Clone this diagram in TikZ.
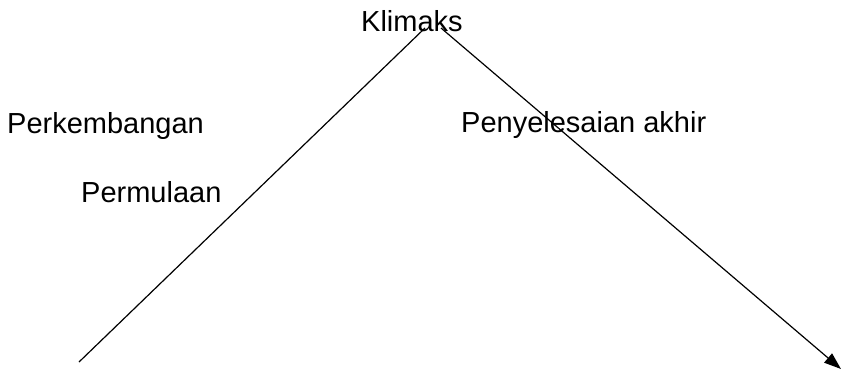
\documentclass[tikz,border=0pt]{standalone}
\usepackage{fontspec}
\setmainfont{Liberation Sans}
\usetikzlibrary{arrows.meta}
\begin{document}
\begin{tikzpicture}[x=1pt,y=-1pt,
  lbl/.style={anchor=base west,inner sep=0pt,font=\fontsize{29}{35}\selectfont},
  ln/.style={line width=1.2pt,black}]
\useasboundingbox (0,0) rectangle (841,370);
\node[lbl] (klimaks) at (361,31) {Klimaks};
\node[lbl] (perkembangan) at (7,133) {Perkembangan};
\node[lbl] (permulaan) at (81,202) {Permulaan};
\node[lbl] (penyelesaian) at (461,132) {Penyelesaian akhir};
\coordinate (a0) at (79,362);
\coordinate (a1) at (425,28);
\coordinate (b0) at (441,28);
\coordinate (b1) at (841,369);
\draw[ln] (a0) -- (a1);
\draw[ln,-{Triangle[length=17pt,width=12pt]}] (b0) -- (b1);
\end{tikzpicture}
\end{document}
